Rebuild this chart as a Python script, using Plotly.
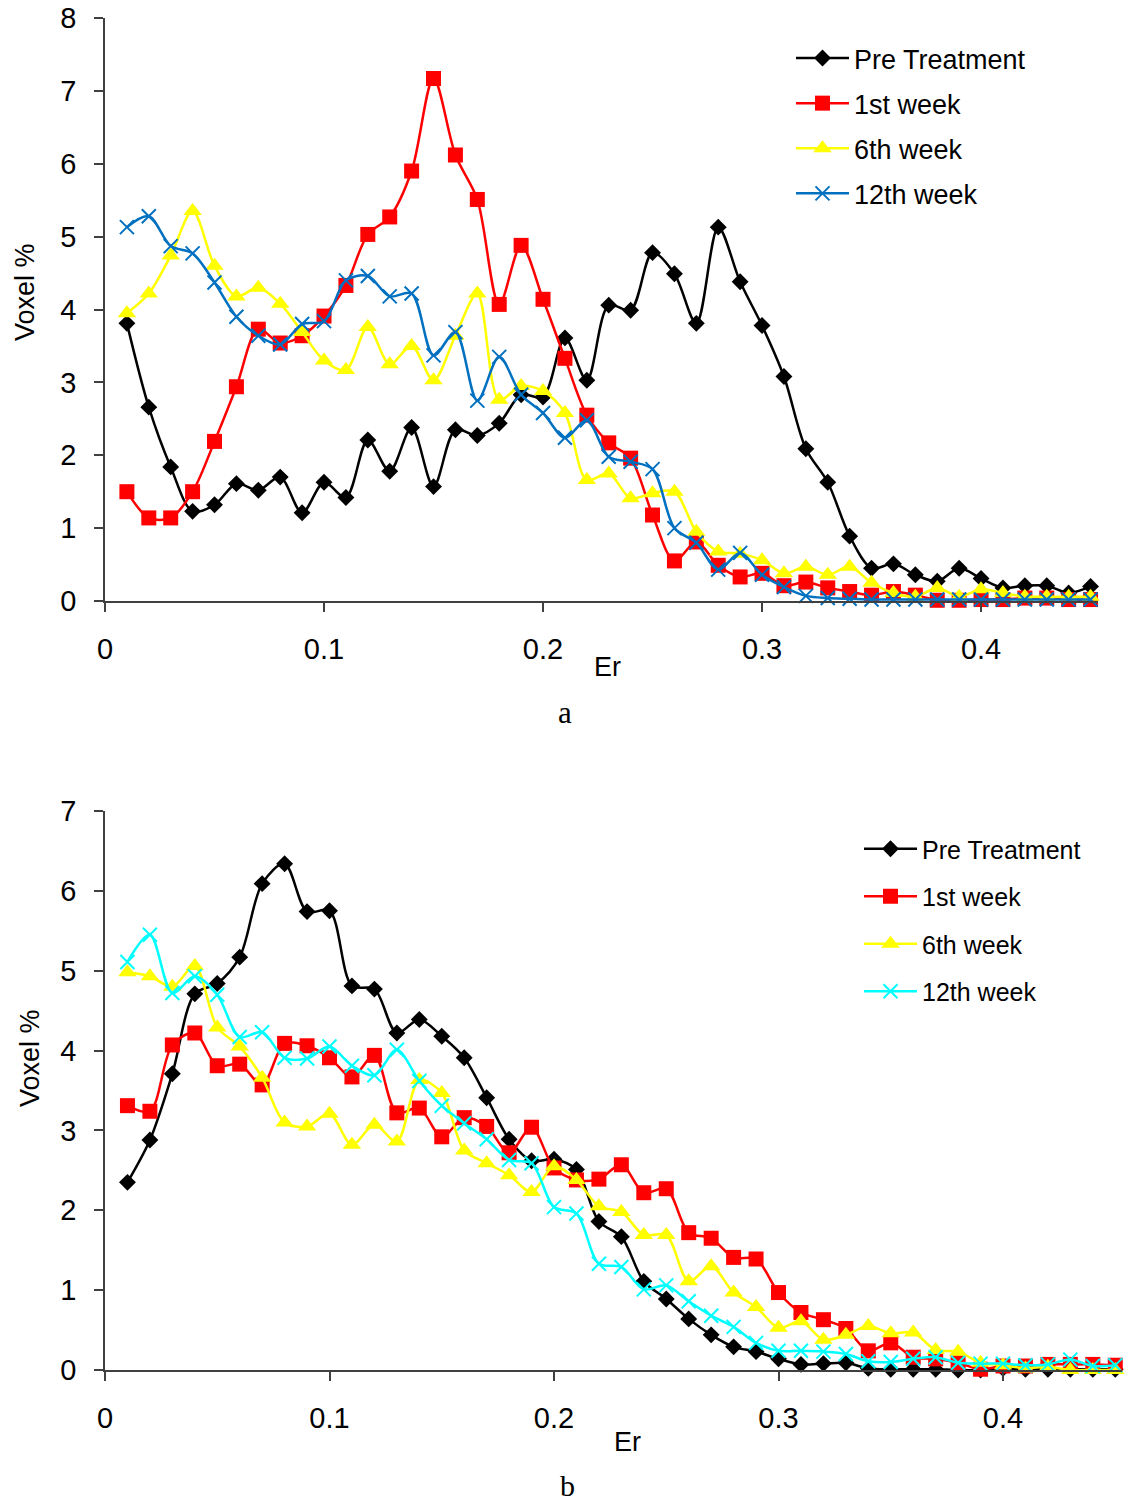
import plotly.graph_objects as go

# ---------------- data ----------------
er = [0.01, 0.02, 0.03, 0.04, 0.05, 0.06, 0.07, 0.08, 0.09, 0.10,
      0.11, 0.12, 0.13, 0.14, 0.15, 0.16, 0.17, 0.18, 0.19, 0.20,
      0.21, 0.22, 0.23, 0.24, 0.25, 0.26, 0.27, 0.28, 0.29, 0.30,
      0.31, 0.32, 0.33, 0.34, 0.35, 0.36, 0.37, 0.38, 0.39, 0.40,
      0.41, 0.42, 0.43, 0.44, 0.45]

series_names = ["Pre Treatment", "1st week", "6th week", "12th week"]

# panel a
pre_a = [3.81, 2.66, 1.84, 1.23, 1.32, 1.61, 1.52, 1.70, 1.21, 1.63,
         1.42, 2.21, 1.78, 2.38, 1.57, 2.35, 2.27, 2.44, 2.83, 2.80,
         3.61, 3.03, 4.06, 3.99, 4.78, 4.49, 3.81, 5.13, 4.38, 3.78,
         3.08, 2.09, 1.63, 0.89, 0.45, 0.51, 0.36, 0.27, 0.45, 0.31,
         0.18, 0.21, 0.21, 0.11, 0.20]
w1_a = [1.50, 1.14, 1.14, 1.50, 2.19, 2.94, 3.73, 3.54, 3.64, 3.91,
        4.33, 5.03, 5.27, 5.90, 7.17, 6.12, 5.51, 4.07, 4.88, 4.14,
        3.33, 2.55, 2.17, 1.96, 1.18, 0.55, 0.81, 0.49, 0.33, 0.38,
        0.21, 0.26, 0.18, 0.13, 0.08, 0.13, 0.08, 0.01, 0.01, 0.02,
        0.02, 0.04, 0.04, 0.02, 0.02]
w6_a = [3.95, 4.22, 4.74, 5.35, 4.60, 4.18, 4.30, 4.08, 3.69, 3.30,
        3.17, 3.76, 3.25, 3.50, 3.03, 3.64, 4.22, 2.76, 2.95, 2.88,
        2.58, 1.66, 1.75, 1.41, 1.48, 1.50, 0.95, 0.68, 0.65, 0.56,
        0.38, 0.47, 0.36, 0.47, 0.25, 0.11, 0.06, 0.18, 0.06, 0.16,
        0.11, 0.06, 0.06, 0.06, 0.06]
w12_a = [5.13, 5.28, 4.87, 4.77, 4.37, 3.90, 3.64, 3.52, 3.80, 3.84,
         4.40, 4.46, 4.18, 4.22, 3.37, 3.69, 2.75, 3.35, 2.83, 2.58,
         2.24, 2.48, 1.98, 1.91, 1.81, 1.00, 0.80, 0.43, 0.66, 0.36,
         0.19, 0.07, 0.04, 0.03, 0.02, 0.02, 0.02, 0.02, 0.02, 0.02,
         0.02, 0.02, 0.02, 0.02, 0.02]

# panel b
pre_b = [2.35, 2.88, 3.71, 4.71, 4.84, 5.17, 6.09, 6.34, 5.74, 5.75,
         4.81, 4.77, 4.22, 4.39, 4.18, 3.91, 3.41, 2.89, 2.62, 2.64,
         2.51, 1.86, 1.67, 1.11, 0.89, 0.64, 0.44, 0.29, 0.23, 0.14,
         0.07, 0.08, 0.09, 0.02, 0.01, 0.01, 0.01, 0.00, 0.00, 0.02,
         0.01, 0.01, 0.01, 0.01, 0.01]
w1_b = [3.31, 3.24, 4.07, 4.22, 3.81, 3.83, 3.57, 4.09, 4.06, 3.91,
        3.67, 3.94, 3.22, 3.28, 2.92, 3.16, 3.05, 2.72, 3.04, 2.53,
        2.38, 2.39, 2.57, 2.22, 2.27, 1.72, 1.65, 1.41, 1.39, 0.97,
        0.72, 0.63, 0.52, 0.24, 0.34, 0.16, 0.14, 0.09, 0.01, 0.05,
        0.05, 0.07, 0.07, 0.07, 0.06]
w6_b = [4.98, 4.93, 4.80, 5.06, 4.29, 4.05, 3.66, 3.10, 3.05, 3.21,
        2.82, 3.07, 2.86, 3.63, 3.47, 2.75, 2.59, 2.44, 2.23, 2.55,
        2.38, 2.05, 1.98, 1.69, 1.69, 1.11, 1.30, 0.97, 0.79, 0.53,
        0.61, 0.38, 0.44, 0.55, 0.46, 0.47, 0.25, 0.23, 0.09, 0.06,
        0.02, 0.04, 0.00, 0.00, 0.00]
w12_b = [5.11, 5.45, 4.72, 4.93, 4.70, 4.17, 4.23, 3.91, 3.90, 4.05,
         3.81, 3.69, 4.01, 3.62, 3.31, 3.09, 2.89, 2.63, 2.59, 2.04,
         1.96, 1.33, 1.29, 1.01, 1.06, 0.86, 0.68, 0.54, 0.34, 0.24,
         0.24, 0.23, 0.20, 0.11, 0.10, 0.14, 0.16, 0.09, 0.08, 0.08,
         0.06, 0.07, 0.13, 0.05, 0.06]

x_tickvals = [0, 0.1, 0.2, 0.3, 0.4]
x_ticktext = ["0", "0.1", "0.2", "0.3", "0.4"]

# ---------------- styling ----------------
W, H = 1130, 1504
FONT = "Liberation Sans, Arial, sans-serif"
SERIF = "Liberation Serif, Times New Roman, serif"
AXC = "#404040"

def px_x(p):
    return p / W

def px_y(p):
    return 1 - p / H

styles_a = [
    dict(color="#000000", symbol="diamond", size=13),
    dict(color="#FF0000", symbol="square", size=15),
    dict(color="#FFFF00", symbol="triangle-up", size=16),
    dict(color="#0070C0", symbol="x-thin", size=14),
]
styles_b = [
    dict(color="#000000", symbol="diamond", size=13),
    dict(color="#FF0000", symbol="square", size=15),
    dict(color="#FFFF00", symbol="triangle-up", size=16),
    dict(color="#00FFFF", symbol="x-thin", size=14),
]

fig = go.Figure()

def add_series(ys, st, name, xa, ya, legend, group):
    fig.add_trace(go.Scatter(
        x=er, y=ys, name=name, mode="lines+markers",
        xaxis=xa, yaxis=ya, legend=legend, legendgroup=group,
        cliponaxis=False,
        line=dict(color=st["color"], width=2.5, shape="spline", smoothing=0.9),
        marker=dict(symbol=st["symbol"], size=st["size"], color=st["color"],
                    line=dict(color=st["color"], width=2 if st["symbol"] == "x-thin" else 0)),
    ))

for ys, st, nm in zip([pre_a, w1_a, w6_a, w12_a], styles_a, series_names):
    add_series(ys, st, nm, "x", "y", "legend", "a_" + nm)
for ys, st, nm in zip([pre_b, w1_b, w6_b, w12_b], styles_b, series_names):
    add_series(ys, st, nm, "x2", "y2", "legend2", "b_" + nm)

axis_common = dict(
    showline=True, linecolor=AXC, linewidth=1.5, showgrid=False, zeroline=False,
    ticks="outside", ticklen=9, tickwidth=1.5, tickcolor=AXC, automargin=False,
    ticklabeloverflow="allow",
    tickfont=dict(family=FONT, size=29, color="#000000"),
)

fig.update_layout(
    template="none",
    width=W, height=H, autosize=False,
    margin=dict(l=0, r=0, t=0, b=0, pad=0),
    paper_bgcolor="white", plot_bgcolor="white",
    font=dict(family=FONT, color="#000000"),
    xaxis=dict(domain=[px_x(105), px_x(1098)], range=[0, 0.4534], anchor="y",
               tickvals=x_tickvals, ticktext=x_ticktext, ticklabelstandoff=12, **axis_common),
    yaxis=dict(domain=[px_y(601), px_y(18)], range=[0, 8], dtick=1, anchor="x",
               ticklabelstandoff=12, **axis_common),
    xaxis2=dict(domain=[px_x(105), px_x(1122)], range=[0, 0.453], anchor="y2",
                tickvals=x_tickvals, ticktext=x_ticktext, ticklabelstandoff=12, **axis_common),
    yaxis2=dict(domain=[px_y(1370), px_y(811)], range=[0, 7], dtick=1, anchor="x2",
                ticklabelstandoff=12, **axis_common),
    legend=dict(x=px_x(791), y=px_y(34), xanchor="left", yanchor="top",
                bgcolor="rgba(0,0,0,0)", borderwidth=0, itemwidth=53, tracegroupgap=7,
                font=dict(family=FONT, size=27, color="#000000")),
    legend2=dict(x=px_x(859), y=px_y(826), xanchor="left", yanchor="top",
                 bgcolor="rgba(0,0,0,0)", borderwidth=0, itemwidth=53, tracegroupgap=12,
                 font=dict(family=FONT, size=25, color="#000000")),
    showlegend=True,
)

annotations = [
    dict(text="Voxel %", x=px_x(25), y=px_y(292), textangle=-90, font=dict(family=FONT, size=27)),
    dict(text="Voxel %", x=px_x(30), y=px_y(1058), textangle=-90, font=dict(family=FONT, size=27)),
    dict(text="Er", x=px_x(607), y=px_y(667), font=dict(family=FONT, size=27)),
    dict(text="Er", x=px_x(627), y=px_y(1442), font=dict(family=FONT, size=27)),
    dict(text="a", x=px_x(565), y=px_y(713), font=dict(family=SERIF, size=31)),
    dict(text="b", x=px_x(567), y=px_y(1485), font=dict(family=SERIF, size=30)),
]
for a in annotations:
    a.update(xref="paper", yref="paper", showarrow=False, xanchor="center", yanchor="middle")
fig.update_layout(annotations=annotations)

fig.write_html("out.html", config={"displayModeBar": False},
               post_script="document.body.style.margin='0';")
